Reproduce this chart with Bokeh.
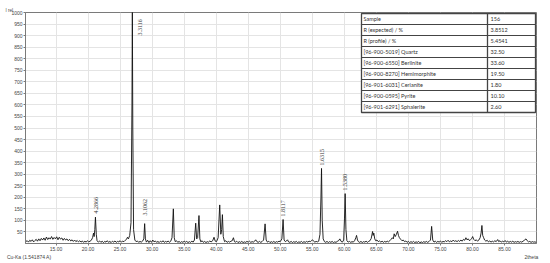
from math import pi
from bokeh.plotting import figure
from bokeh.models import Range1d, FixedTicker, NumeralTickFormatter, LinearAxis, Title
from bokeh.core.properties import value
from bokeh.embed import file_html
from bokeh.resources import INLINE

# ---- diffraction profile (2theta, I rel.) ----
profile = [
    (10.25, 8), (10.5, 12), (10.7, 6), (10.9, 14), (11.1, 9), (11.3, 16), (11.5, 7), (11.7, 13),
    (11.9, 18), (12.1, 10), (12.3, 20), (12.5, 12), (12.7, 22), (12.9, 15), (13.1, 24), (13.3, 14),
    (13.5, 28), (13.7, 17), (13.9, 25), (14.1, 19), (14.3, 30), (14.5, 18), (14.7, 26), (14.9, 20),
    (15.1, 29), (15.3, 16), (15.5, 27), (15.7, 19), (15.9, 24), (16.1, 14), (16.3, 22), (16.5, 15),
    (16.7, 20), (16.9, 12), (17.1, 18), (17.3, 11), (17.5, 16), (17.7, 9), (17.9, 15), (18.1, 8),
    (18.3, 13), (18.5, 7), (18.7, 12), (18.9, 6), (19.1, 11), (19.3, 5), (19.5, 10), (19.7, 6),
    (19.9, 12), (20.1, 7), (20.3, 10), (20.5, 14),
    (20.7, 25), (20.85, 45), (20.95, 30), (21.05, 60), (21.15, 114), (21.28, 40), (21.4, 12),
    (21.6, 6), (21.8, 11), (22.0, 5), (22.2, 10), (22.4, 4), (22.6, 9), (22.8, 6), (23.0, 12),
    (23.2, 5), (23.4, 9), (23.6, 4), (23.8, 10), (24.0, 6), (24.2, 11), (24.4, 5), (24.6, 9),
    (24.8, 7), (25.0, 12), (25.2, 6), (25.4, 10), (25.6, 8), (25.8, 14), (26.0, 18), (26.15, 27),
    (26.3, 20), (26.5, 35), (26.7, 90), (26.85, 600), (26.91, 1010), (26.98, 500), (27.1, 60),
    (27.3, 15), (27.5, 8), (27.7, 11), (27.9, 5), (28.1, 9), (28.3, 6), (28.5, 10), (28.7, 20),
    (28.83, 86), (28.95, 20), (29.1, 6), (29.3, 14), (29.5, 4), (29.7, 12), (29.9, 5), (30.1, 15),
    (30.3, 7), (30.5, 11), (30.7, 5), (30.9, 9), (31.1, 4), (31.3, 10), (31.5, 6), (31.7, 12),
    (31.9, 5), (32.1, 9), (32.3, 6), (32.5, 11), (32.7, 5), (32.9, 10), (33.1, 25), (33.31, 150),
    (33.45, 25), (33.6, 8), (33.8, 12), (34.0, 5), (34.2, 9), (34.4, 4), (34.6, 8), (34.8, 5),
    (35.0, 10), (35.2, 6), (35.4, 9), (35.6, 4), (35.8, 8), (36.0, 5), (36.2, 10), (36.4, 6),
    (36.6, 15), (36.8, 88), (36.95, 20), (37.1, 25), (37.31, 121), (37.45, 20), (37.6, 7),
    (37.8, 12), (38.0, 5), (38.2, 9), (38.4, 4), (38.6, 8), (38.8, 6), (39.0, 11), (39.2, 7),
    (39.45, 12), (39.66, 27), (39.85, 10), (40.05, 8), (40.3, 25), (40.55, 167), (40.72, 40),
    (40.85, 60), (40.97, 125), (41.1, 30), (41.3, 8), (41.5, 12), (41.7, 5), (41.9, 9), (42.1, 6),
    (42.3, 10), (42.5, 12), (42.69, 25), (42.85, 8), (43.0, 6), (43.2, 10), (43.4, 4), (43.6, 8),
    (43.8, 5), (44.0, 9), (44.2, 4), (44.4, 7), (44.6, 5), (44.8, 9), (45.0, 6), (45.2, 10),
    (45.4, 5), (45.6, 8), (45.8, 6), (46.0, 10), (46.17, 16), (46.35, 8), (46.55, 5), (46.75, 9),
    (46.95, 5), (47.15, 8), (47.4, 15), (47.63, 85), (47.8, 15), (48.0, 6), (48.2, 10), (48.4, 4),
    (48.6, 8), (48.8, 5), (49.0, 9), (49.2, 4), (49.4, 8), (49.6, 6), (49.8, 10), (50.0, 8),
    (50.25, 20), (50.44, 104), (50.6, 15), (50.8, 8), (51.0, 12), (51.13, 16), (51.3, 7),
    (51.5, 5), (51.7, 9), (51.9, 4), (52.1, 8), (52.3, 5), (52.5, 9), (52.7, 4), (52.9, 7),
    (53.1, 5), (53.3, 9), (53.5, 4), (53.7, 8), (53.9, 5), (54.1, 9), (54.3, 6), (54.5, 10),
    (54.7, 8), (54.9, 13), (55.03, 16), (55.2, 10), (55.4, 6), (55.6, 9), (55.8, 7), (56.0, 10),
    (56.2, 40), (56.35, 200), (56.44, 325), (56.55, 100), (56.7, 20), (56.9, 8), (57.1, 5),
    (57.3, 9), (57.5, 4), (57.7, 8), (57.9, 5), (58.1, 9), (58.3, 4), (58.5, 7), (58.7, 5),
    (58.9, 9), (59.1, 12), (59.3, 20), (59.5, 9), (59.7, 6), (59.9, 15), (60.03, 110),
    (60.13, 216), (60.25, 60), (60.4, 12), (60.6, 6), (60.8, 9), (61.0, 5), (61.2, 8), (61.4, 6),
    (61.6, 12), (61.8, 25), (61.91, 35), (62.05, 15), (62.2, 8), (62.4, 5), (62.6, 9), (62.8, 4),
    (63.0, 8), (63.2, 6), (63.4, 10), (63.6, 5), (63.8, 9), (64.0, 12), (64.2, 22), (64.41, 52),
    (64.5, 35), (64.6, 45), (64.75, 20), (64.9, 12), (65.1, 15), (65.3, 8), (65.5, 11), (65.7, 6),
    (65.9, 10), (66.1, 5), (66.3, 9), (66.5, 6), (66.7, 10), (66.9, 7), (67.1, 12), (67.3, 18),
    (67.5, 25), (67.65, 20), (67.78, 42), (67.95, 30), (68.1, 38), (68.31, 53), (68.45, 35),
    (68.6, 25), (68.8, 18), (69.0, 12), (69.2, 15), (69.4, 8), (69.6, 11), (69.8, 5), (70.0, 9),
    (70.2, 4), (70.4, 8), (70.6, 5), (70.8, 9), (71.0, 4), (71.2, 7), (71.4, 5), (71.6, 9),
    (71.8, 3), (72.0, 7), (72.2, 4), (72.4, 8), (72.6, 5), (72.8, 9), (73.0, 5), (73.2, 8),
    (73.45, 15), (73.63, 74), (73.8, 15), (74.0, 6), (74.2, 10), (74.4, 5), (74.6, 9), (74.8, 6),
    (75.0, 11), (75.2, 5), (75.4, 9), (75.6, 7), (75.8, 12), (76.0, 8), (76.2, 14), (76.4, 7),
    (76.6, 11), (76.8, 8), (77.0, 15), (77.2, 9), (77.4, 12), (77.6, 8), (77.8, 13), (78.0, 9),
    (78.2, 15), (78.4, 10), (78.6, 18), (78.8, 14), (78.98, 25), (79.15, 16), (79.35, 20),
    (79.55, 12), (79.75, 18), (79.9, 22), (80.03, 30), (80.2, 18), (80.4, 12), (80.6, 16),
    (80.8, 10), (81.0, 15), (81.2, 25), (81.35, 45), (81.48, 78), (81.6, 35), (81.75, 25),
    (81.9, 15), (82.1, 10), (82.3, 14), (82.5, 7), (82.7, 11), (82.9, 6), (83.1, 10), (83.3, 7),
    (83.5, 12), (83.7, 8), (83.94, 17), (84.1, 8), (84.3, 12), (84.5, 6), (84.7, 10), (84.9, 7),
    (85.1, 13), (85.3, 6), (85.5, 10), (85.7, 5), (85.9, 9), (86.1, 6), (86.3, 10), (86.5, 5),
    (86.7, 8), (86.9, 6), (87.1, 9), (87.3, 5), (87.5, 8), (87.7, 6), (87.9, 10), (88.1, 14),
    (88.36, 20), (88.55, 12), (88.75, 7), (88.95, 9), (89.15, 5), (89.35, 8), (89.55, 6),
    (89.75, 7), (89.95, 5),
]
two_theta = [a for a, b in profile]
intensity = [b for a, b in profile]

# ---- peak d-spacing labels ----
peak_labels = ["4.2866", "3.3116", "3.1062", "1.8117", "1.6315", "1.5380"]
peak_label_tth = [21.31, 28.10, 28.96, 50.43, 56.44, 60.18]
peak_label_int = [130, 900, 121, 117, 338, 229]

# ---- result table ----
table_names = ["Sample", "R (expected) / %", "R (profile) / %", "[96-900-5019] Quartz",
               "[96-900-6550] Berlinite", "[96-900-8270] Hemimorphite",
               "[96-901-6031] Cerianite", "[96-900-0595] Pyrite", "[96-901-6291] Sphalerite"]
table_values = ["156", "3.8512", "5.4541", "32.50", "33.60", "19.50", "1.80", "10.10", "2.60"]

# ---- axes ----
x_ticks = [15, 20, 25, 30, 35, 40, 45, 50, 55, 60, 65, 70, 75, 80, 85]
y_ticks = [50, 100, 150, 200, 250, 300, 350, 400, 450, 500, 550, 600, 650, 700, 750, 800,
           850, 900, 950, 1000]
y_title = "I rel."
x_notes = {10.8: "Cu-Ka (1.541874 A)", 89.2: "2theta"}
X0, X1 = 10.23, 90.0
Y0, Y1 = 0, 1000

W, H = 550, 263
ML, MR, MT, MB = 25, 14, 12, 20
FW, FH = W - ML - MR, H - MT - MB
FRAME_LEFT, FRAME_BOTTOM = ML, MT + FH   # page pixel positions of the frame corner

p = figure(width=W, height=H, x_range=Range1d(X0, X1), y_range=Range1d(Y0, Y1),
           output_backend="svg", toolbar_location=None,
           min_border_left=ML, min_border_right=MR, min_border_top=MT, min_border_bottom=MB)
p.background_fill_color = "white"
p.border_fill_color = "white"
p.outline_line_color = "#7a7a7a"
p.outline_line_width = 1

# layout helpers: page pixel -> data
def fx(px):
    return X0 + (px - FRAME_LEFT) * (X1 - X0) / FW

def fy(py):
    return Y0 + (FRAME_BOTTOM - py) * (Y1 - Y0) / FH

for ax in (p.xaxis[0], p.yaxis[0]):
    ax.axis_line_color = "#7a7a7a"
    ax.major_tick_line_color = "#7a7a7a"
    ax.minor_tick_line_color = None
    ax.major_tick_in = 0
    ax.major_tick_out = 2
    ax.major_label_text_font = "Liberation Sans"
    ax.major_label_text_font_size = "5px"
    ax.major_label_text_color = "#444444"
    ax.major_label_standoff = 1

p.xaxis[0].ticker = FixedTicker(ticks=x_ticks)
p.xaxis[0].formatter = NumeralTickFormatter(format="0.00")
p.yaxis[0].ticker = FixedTicker(ticks=y_ticks)
p.xgrid.ticker = FixedTicker(ticks=x_ticks)
p.ygrid.ticker = FixedTicker(ticks=y_ticks)
p.xgrid.grid_line_color = "#e4e4e4"
p.ygrid.grid_line_color = "#e4e4e4"

# second, unlined axis below carrying the radiation note and the 2theta caption
note_axis = LinearAxis(ticker=FixedTicker(ticks=list(x_notes.keys())),
                       major_label_overrides=x_notes,
                       axis_line_color=None, major_tick_line_color=None,
                       minor_tick_line_color=None, major_tick_in=0, major_tick_out=0,
                       major_label_standoff=0, major_label_text_font="Liberation Sans",
                       major_label_text_font_size="5px", major_label_text_color="#444444")
p.add_layout(note_axis, "below")

# "I rel." caption above the y axis
p.add_layout(Title(text=y_title, align="left", offset=-20, standoff=0,
                   text_font="Liberation Sans", text_font_size="4.5px",
                   text_font_style="normal", text_color="#444444"), "above")

p.line(two_theta, intensity, line_color="#111111", line_width=0.9)

p.text(x=peak_label_tth, y=peak_label_int, text=peak_labels, angle=pi / 2,
       text_align="left", text_baseline="middle", text_font=value("Liberation Serif"),
       text_font_size="6px", text_color="#333333")

# table
tl, tr, tt = 361, 535, 13
rh = 11
nrows = len(table_names)
tb = tt + rh * nrows
cdiv = 487
p.quad(left=[fx(tl)], right=[fx(tr)], top=[fy(tt)], bottom=[fy(tb)],
       fill_color="white", line_color="#444444", line_width=1.3)
p.segment(x0=[fx(tl)] * (nrows - 1), x1=[fx(tr)] * (nrows - 1),
          y0=[fy(tt + rh * i) for i in range(1, nrows)],
          y1=[fy(tt + rh * i) for i in range(1, nrows)],
          line_color="#444444", line_width=1)
p.segment(x0=[fx(cdiv)], x1=[fx(cdiv)], y0=[fy(tt)], y1=[fy(tb)],
          line_color="#444444", line_width=1.3)
row_y = [fy(tt + rh * i + rh / 2) for i in range(nrows)]
p.text(x=[fx(tl + 2)] * nrows, y=row_y, text=table_names, text_baseline="middle",
       text_font=value("Lato"), text_font_size="5.5px", text_color="#333333")
p.text(x=[fx(cdiv + 3)] * nrows, y=row_y, text=table_values, text_baseline="middle",
       text_font=value("Lato"), text_font_size="5.5px", text_color="#333333")

open("out.html", "w").write(file_html(p, INLINE))
